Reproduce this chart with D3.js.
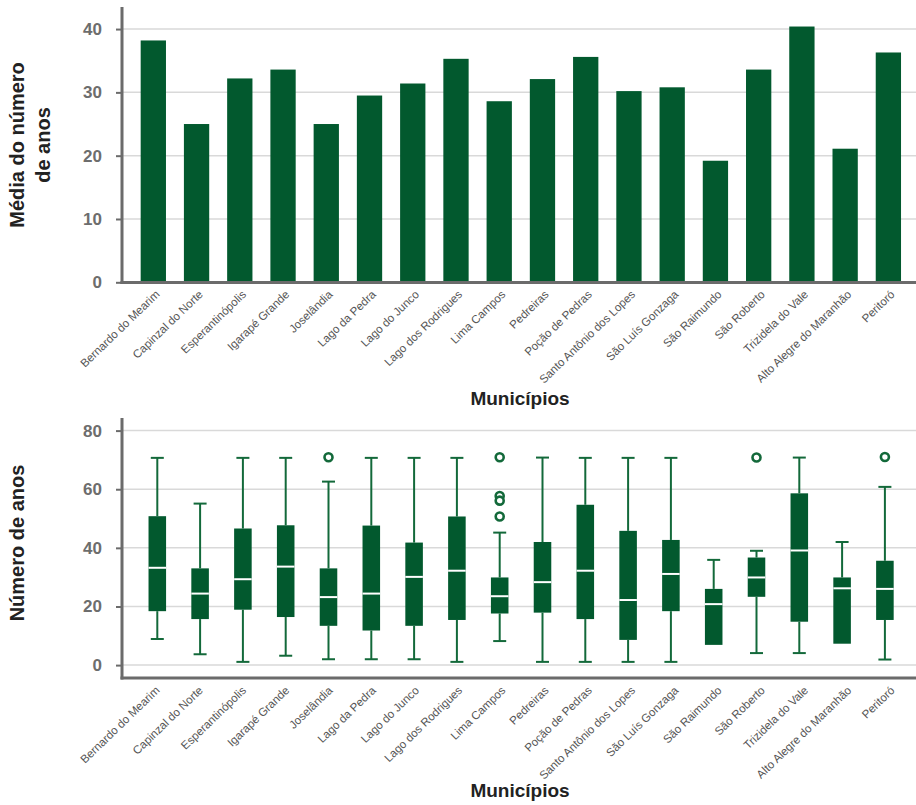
<!DOCTYPE html>
<html><head><meta charset="utf-8">
<script src="https://cdn.jsdelivr.net/npm/d3@7"></script>
<style>body{margin:0;background:#fff}svg{display:block;font-family:"Liberation Sans",Arial,sans-serif}</style>
</head><body><svg id="c" width="916" height="805"></svg>
<script>
const categories = ["Bernardo do Mearim","Capinzal do Norte","Esperantinópolis","Igarapé Grande","Joselândia","Lago da Pedra","Lago do Junco","Lago dos Rodrigues","Lima Campos","Pedreiras","Poção de Pedras","Santo Antônio dos Lopes","São Luís Gonzaga","São Raimundo","São Roberto","Trizidela do Vale","Alto Alegre do Maranhão","Peritoró"];
const meanYears = [38.2,25.0,32.2,33.6,25.0,29.5,31.4,35.3,28.6,32.1,35.6,30.2,30.8,19.2,33.6,40.4,21.1,36.3];
const whiskerLow  = [8.9,3.7,1.1,3.2,2.0,2.0,2.0,1.1,8.2,1.1,1.1,1.1,1.1,6.9,4.1,4.1,7.3,1.9];
const q1          = [18.4,15.7,18.9,16.4,13.4,11.8,13.4,15.4,17.6,17.9,15.7,8.6,18.4,6.9,23.3,14.8,7.3,15.4];
const medians     = [33.2,24.4,29.3,33.6,23.2,24.4,30.1,32.2,23.5,28.3,32.2,22.2,31.1,20.8,29.9,39.1,26.2,26.0];
const q3          = [50.8,33.0,46.6,47.7,33.0,47.6,41.8,50.7,29.9,42.0,54.7,45.8,42.7,26.0,36.7,58.6,29.9,35.6];
const whiskerHigh = [70.7,55.1,70.7,70.7,62.6,70.7,70.7,70.7,45.2,70.8,70.7,70.7,70.7,35.9,39.0,70.8,42.0,60.8];
const outliers    = [[],[],[],[],[70.9],[],[],[],[70.9,57.7,56.1,50.7],[],[],[],[],[],[70.8],[],[],[71.0]];
const topTicks = [0,10,20,30,40];
const bottomTicks = [0,20,40,60,80];
const yTitleTop = ["Média do número","de anos"];
const yTitleBottom = "Número de anos";
const xTitle = "Municípios";

const GREEN = "#02592e", WHISK = "#13693a", AXIS = "#6b6b6b", GRID = "#d9d9d9", TICKTXT = "#6d6d6d";
const svg = d3.select("#c");
const AX0 = 122, AX1 = 916;

const xBar = d3.scaleBand().domain(categories).range([131.7, 910.0]).paddingInner(0.415).paddingOuter(0.2075);
const xBox = d3.scaleBand().domain(categories).range([135.9, 906.3]).paddingInner(0.59).paddingOuter(0.295);

function drawAxes(y, ticks){
  const g = svg.append("g");
  g.selectAll("line.grid").data(ticks).join("line")
    .attr("x1", AX0).attr("x2", AX1).attr("y1", d=>y(d)).attr("y2", d=>y(d))
    .attr("stroke", GRID).attr("stroke-width", 1.5);
  const ya = svg.append("g").attr("transform", `translate(${AX0},0)`)
    .call(d3.axisLeft(y).tickValues(ticks).tickSize(6).tickPadding(14).tickFormat(d3.format("d")));
  ya.select(".domain").remove();
  ya.selectAll(".tick line").attr("stroke", AXIS).attr("stroke-width", 2);
  ya.selectAll(".tick text").attr("fill", TICKTXT).attr("font-size", 17).attr("font-weight", "bold")
    .attr("font-family", '"Liberation Sans",Arial,sans-serif');
  return g;
}
function drawFrame(top, xLineY, labelY){
  svg.append("line").attr("x1", AX0).attr("x2", AX0).attr("y1", top).attr("y2", xLineY+1.5)
    .attr("stroke", AXIS).attr("stroke-width", 3);
  svg.append("line").attr("x1", AX0-1.5).attr("x2", AX1).attr("y1", xLineY).attr("y2", xLineY)
    .attr("stroke", AXIS).attr("stroke-width", 3);
  const xa = svg.append("g").attr("transform", `translate(0,${labelY})`)
    .call(d3.axisBottom(xBar).tickSize(0).tickPadding(0));
  xa.select(".domain").remove();
  xa.selectAll(".tick text")
    .attr("font-size", 11.5).attr("fill", "#555").attr("text-anchor", "end")
    .attr("font-family", '"Liberation Sans",Arial,sans-serif')
    .attr("x", 0).attr("y", 0).attr("dy", "0.75em")
    .attr("transform", "translate(1,0) rotate(-44)");
}

// ---- top chart
const yTop = d3.scaleLinear().domain([0, 43.5]).range([282.3, 6.9]);
drawAxes(yTop, topTicks);
svg.append("g").selectAll("rect").data(categories).join("rect")
  .attr("x", d=>xBar(d)).attr("width", xBar.bandwidth())
  .attr("y", (d,i)=>yTop(meanYears[i])).attr("height", (d,i)=>yTop(0)-yTop(meanYears[i]))
  .attr("fill", GREEN);
drawFrame(7, 282.5, 289);

// ---- bottom chart
const yBot = d3.scaleLinear().domain([-4.4, 84.3]).range([678, 418]);
drawAxes(yBot, bottomTicks);
const bw = xBox.bandwidth();
const bg = svg.append("g").selectAll("g").data(categories).join("g")
  .attr("transform", d=>`translate(${xBox(d)+bw/2},0)`);
bg.each(function(d,i){
  const g = d3.select(this);
  const cap = 6.5;
  if (whiskerHigh[i] > q3[i]) {
    g.append("line").attr("x1",0).attr("x2",0).attr("y1",yBot(whiskerHigh[i])).attr("y2",yBot(q3[i])).attr("stroke",WHISK).attr("stroke-width",2);
    g.append("line").attr("x1",-cap).attr("x2",cap).attr("y1",yBot(whiskerHigh[i])).attr("y2",yBot(whiskerHigh[i])).attr("stroke",WHISK).attr("stroke-width",2);
  }
  if (whiskerLow[i] < q1[i]) {
    g.append("line").attr("x1",0).attr("x2",0).attr("y1",yBot(q1[i])).attr("y2",yBot(whiskerLow[i])).attr("stroke",WHISK).attr("stroke-width",2);
    g.append("line").attr("x1",-cap).attr("x2",cap).attr("y1",yBot(whiskerLow[i])).attr("y2",yBot(whiskerLow[i])).attr("stroke",WHISK).attr("stroke-width",2);
  }
  g.append("rect").attr("x",-bw/2).attr("width",bw).attr("y",yBot(q3[i])).attr("height",yBot(q1[i])-yBot(q3[i]))
    .attr("fill",GREEN);
  g.append("line").attr("x1",-bw/2).attr("x2",bw/2).attr("y1",yBot(medians[i])).attr("y2",yBot(medians[i]))
    .attr("stroke","#fff").attr("stroke-width",2);
  g.selectAll("circle").data(outliers[i]).join("circle")
    .attr("cx",0).attr("cy",v=>yBot(v)).attr("r",4).attr("fill","#fff").attr("stroke",WHISK).attr("stroke-width",2.6);
});
drawFrame(418, 678, 685);

// ---- titles
const tt = svg.append("text").attr("transform","translate(30,145) rotate(-90)").attr("text-anchor","middle")
  .attr("font-size",20).attr("font-weight","bold").attr("fill","#222");
yTitleTop.forEach((t,k)=>tt.append("tspan").attr("x",0).attr("y",(k-0.5)*26 + 7).text(t));
svg.append("text").attr("transform","translate(24,543) rotate(-90)").attr("text-anchor","middle")
  .attr("font-size",20).attr("font-weight","bold").attr("fill","#222").text(yTitleBottom);
svg.append("text").attr("x",520).attr("y",405).attr("text-anchor","middle").attr("font-size",19).attr("font-weight","bold").attr("fill","#222").text(xTitle);
svg.append("text").attr("x",520).attr("y",797).attr("text-anchor","middle").attr("font-size",19).attr("font-weight","bold").attr("fill","#222").text(xTitle);
</script></body></html>
